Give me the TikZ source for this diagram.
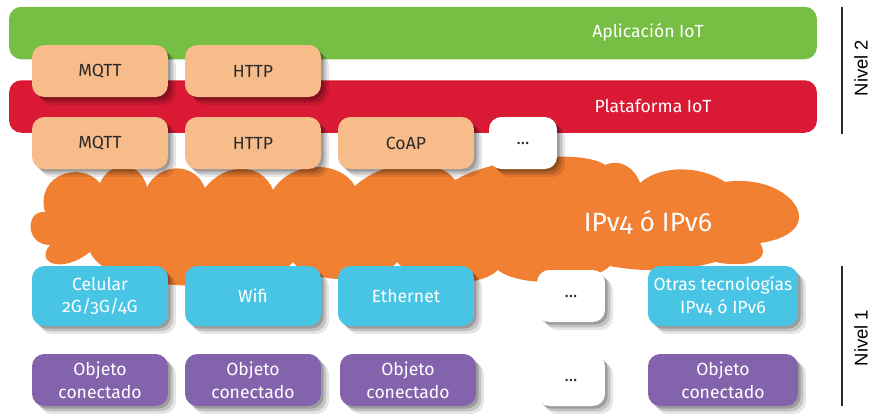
\documentclass[tikz,border=0pt]{standalone}
\usepackage{fontspec}
\setmainfont{Fira Sans}[Numbers=OldStyle]
\newfontfamily\nivelfont{Liberation Sans}
\usetikzlibrary{shadows}
\definecolor{appgreen}{HTML}{76BF44}
\definecolor{platred}{HTML}{DA1A35}
\definecolor{protopeach}{HTML}{F8BB8A}
\definecolor{netorange}{HTML}{F28033}
\definecolor{linkcyan}{HTML}{48C5E5}
\definecolor{objpurple}{HTML}{8463AD}
\definecolor{darktext}{HTML}{2B2B2B}

\begin{document}
\begin{tikzpicture}[x = 0.02cm, y = -0.02cm]
\tikzstyle{Shade}=[
drop shadow = {shadow xshift = 4.5pt, shadow yshift = -4.5pt, opacity = .10, fill = black},
drop shadow = {shadow xshift = 3pt, shadow yshift = -3pt, opacity = .15, fill = black},
drop shadow = {shadow xshift = 1.5pt, shadow yshift = -1.5pt, opacity = .2, fill = black}]
\tikzstyle{BarStyle}=[
rectangle,
rounded corners = 7pt,
minimum width = 16.16cm,
minimum height = 1.05cm,
inner sep = 0pt]
\tikzstyle{BarText}=[text = white, font = \fontsize{10}{13}\selectfont]
\tikzstyle{BoxStyle}=[
rectangle,
rounded corners = 7pt,
minimum width = 2.72cm,
minimum height = 1.04cm,
inner sep = 0pt,
align = center,
font = \fontsize{10}{12.8}\selectfont,
Shade]
\tikzstyle{Proto}=[BoxStyle, fill = protopeach, text = darktext]
\tikzstyle{Link}=[BoxStyle, fill = linkcyan, text = white, minimum height = 1.2cm]
\tikzstyle{Thing}=[BoxStyle, fill = objpurple, text = white]
\tikzstyle{Etc}=[BoxStyle, fill = white, text = darktext, minimum width = 1.36cm]
\tikzstyle{NivelStyle}=[rotate = 90, font = \nivelfont\fontsize{10.5}{12}\selectfont]
\useasboundingbox (0,0) rectangle (870,414);

\node[BarStyle, fill = appgreen] (app) at (413,33) {};
\node[BarText] (apptext) at (648,32) {Aplicación IoT};
\node[BarStyle, fill = platred] (plat) at (413,106.5) {};
\node[BarText] (plattext) at (653,106) {Plataforma IoT};

\node[Proto] (mqttA) at (100,71) {MQTT};
\node[Proto] (httpA) at (253,71) {HTTP};

\fill[netorange] (100,183) .. controls (110,160) and (140,160) .. (147,187)
.. controls (160,162) and (195,162) .. (205,188)
.. controls (225,162) and (262,162) .. (273,190)
.. controls (292,160) and (340,160) .. (355,186)
.. controls (385,158) and (440,158) .. (455,180)
.. controls (500,155) and (585,150) .. (605,165)
.. controls (620,158) and (635,168) .. (640,183)
.. controls (660,165) and (700,165) .. (725,182)
.. controls (790,172) and (835,232) .. (760,243)
.. controls (772,262) and (745,268) .. (715,262)
.. controls (680,272) and (640,272) .. (610,266)
.. controls (590,285) and (520,288) .. (498,270)
.. controls (480,288) and (420,288) .. (397,262)
.. controls (380,285) and (310,285) .. (293,262)
.. controls (270,292) and (110,298) .. (90,252)
.. controls (60,275) and (35,262) .. (50,245)
.. controls (25,245) and (25,210) .. (45,212)
.. controls (35,175) and (80,160) .. (100,183) -- cycle;
\node[text = white, font = \fontsize{15}{18}\selectfont] (ip) at (648,222) {IPv4 ó IPv6};

\node[Proto] (mqttB) at (100,143) {MQTT};
\node[Proto] (httpB) at (253,143) {HTTP};
\node[Proto] (coap) at (406,143) {CoAP};
\node[Etc] (etcA) at (523,143) {...};

\node[Link] (cel) at (100,296) {Celular\\2G/3G/4G};
\node[Link] (wifi) at (253,296) {Wifi};
\node[Link] (eth) at (406,296) {Ethernet};
\node[Etc] (etcB) at (571,296) {...};
\node[Link, minimum width = 3cm] (otras) at (723,296) {Otras tecnologías\\IPv4 ó IPv6};

\node[Thing] (objA) at (100,380) {Objeto\\conectado};
\node[Thing] (objB) at (253,380) {Objeto\\conectado};
\node[Thing] (objC) at (408,380) {Objeto\\conectado};
\node[Etc] (etcC) at (571,380) {...};
\node[Thing, minimum width = 3cm] (objD) at (723,380) {Objeto\\conectado};

\coordinate (nivA1) at (842,7);
\coordinate (nivA2) at (842,134);
\coordinate (nivB1) at (842,266);
\coordinate (nivB2) at (842,406);
\draw[line width = 1.7pt, darktext] (nivA1) -- (nivA2);
\draw[line width = 1.7pt, darktext] (nivB1) -- (nivB2);
\node[NivelStyle] (niv2) at (861,68) {Nivel 2};
\node[NivelStyle] (niv1) at (861,338) {Nivel 1};
\end{tikzpicture}
\end{document}
